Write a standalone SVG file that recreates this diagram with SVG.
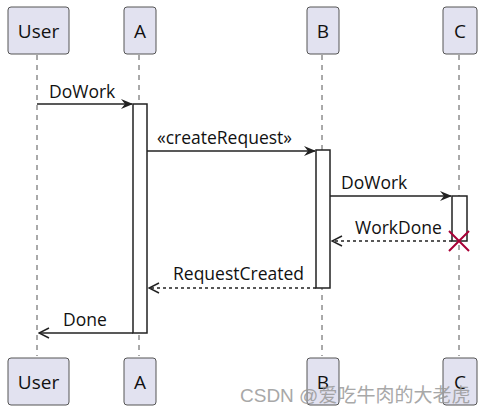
<svg xmlns="http://www.w3.org/2000/svg" width="485" height="413" viewBox="0 0 485 413">
<defs>
<style>
.box{fill:#E2E2F0;stroke:#555;stroke-width:1}
.life{stroke:#555;stroke-width:1;stroke-dasharray:5 5}
.act{fill:#fff;stroke:#222;stroke-width:1.5}
.msg{stroke:#222;stroke-width:1.5;fill:none}
.ret{stroke:#222;stroke-width:1.5;fill:none;stroke-dasharray:3 3}
.t{font-family:"Open Sans","Noto Sans","Liberation Sans",sans-serif;font-size:17.5px;fill:#111}
.pt{font-family:"Open Sans","Noto Sans","Liberation Sans",sans-serif;font-size:19px;fill:#111;text-anchor:middle}
.wm{font-family:"Liberation Sans","Noto Sans CJK SC",sans-serif;font-size:19px;fill:#999;opacity:0.85}
</style>
<marker id="ah" viewBox="0 0 12 10" refX="11" refY="5" markerWidth="12" markerHeight="10" markerUnits="userSpaceOnUse" orient="auto">
<path d="M0,0 L12,5 L0,10 L4,5 Z" fill="#222"/>
</marker>
<marker id="oh" viewBox="0 0 12 12" refX="11" refY="6" markerWidth="12" markerHeight="12" markerUnits="userSpaceOnUse" orient="auto">
<path d="M1,1 L11,6 L1,11" fill="none" stroke="#222" stroke-width="1.5"/>
</marker>
</defs>
<g id="lifelines">
<line class="life" x1="37" y1="55" x2="37" y2="356"/>
<line class="life" x1="139" y1="55" x2="139" y2="356"/>
<line class="life" x1="322" y1="55" x2="322" y2="356"/>
<line class="life" x1="459" y1="55" x2="459" y2="356"/>
</g>
<g id="User"><rect class="box" x="8" y="7" width="61" height="47" rx="3"/><text class="pt" x="38.5" y="38">User</text>
<rect class="box" x="8" y="358" width="61" height="47" rx="3"/><text class="pt" x="38.5" y="389">User</text></g>
<g id="A"><rect class="box" x="124" y="7" width="32" height="47" rx="3"/><text class="pt" x="140" y="38">A</text>
<rect class="box" x="124" y="358" width="32" height="47" rx="3"/><text class="pt" x="140" y="389">A</text></g>
<g id="B"><rect class="box" x="307" y="7" width="32" height="47" rx="3"/><text class="pt" x="323" y="38">B</text>
<rect class="box" x="307" y="358" width="32" height="47" rx="3"/><text class="pt" x="323" y="389">B</text></g>
<g id="C"><rect class="box" x="443" y="7" width="34" height="47" rx="3"/><text class="pt" x="460" y="38">C</text>
<rect class="box" x="443" y="358" width="34" height="47" rx="3"/><text class="pt" x="460" y="389">C</text></g>
<g id="activations">
<rect class="act" x="133" y="104" width="14" height="229"/>
<rect class="act" x="316" y="150" width="14" height="138"/>
<rect class="act" x="452" y="196" width="15" height="45"/>
</g>
<g id="connectors">
<line class="msg" x1="37" y1="104" x2="132" y2="104" marker-end="url(#ah)"/>
<line class="msg" x1="147" y1="151" x2="315" y2="151" marker-end="url(#ah)"/>
<line class="msg" x1="330" y1="196" x2="451" y2="196" marker-end="url(#ah)"/>
<line class="ret" x1="452" y1="241" x2="332" y2="241" marker-end="url(#oh)"/>
<line class="ret" x1="316" y1="288" x2="149" y2="288" marker-end="url(#oh)"/>
<line class="msg" x1="133" y1="333" x2="39" y2="333" marker-end="url(#oh)"/>
<path d="M449,231 L469,251 M469,231 L449,251" stroke="#A80036" stroke-width="2" fill="none"/>
</g>
<g id="labels">
<text class="t" x="49" y="98">DoWork</text>
<text class="t" x="157" y="144">«createRequest»</text>
<text class="t" x="341" y="189">DoWork</text>
<text class="t" x="355" y="234">WorkDone</text>
<text class="t" x="173" y="280">RequestCreated</text>
<text class="t" x="63" y="326">Done</text>
</g>
<text class="wm" x="240" y="402">CSDN @爱吃牛肉的大老虎</text>
</svg>
